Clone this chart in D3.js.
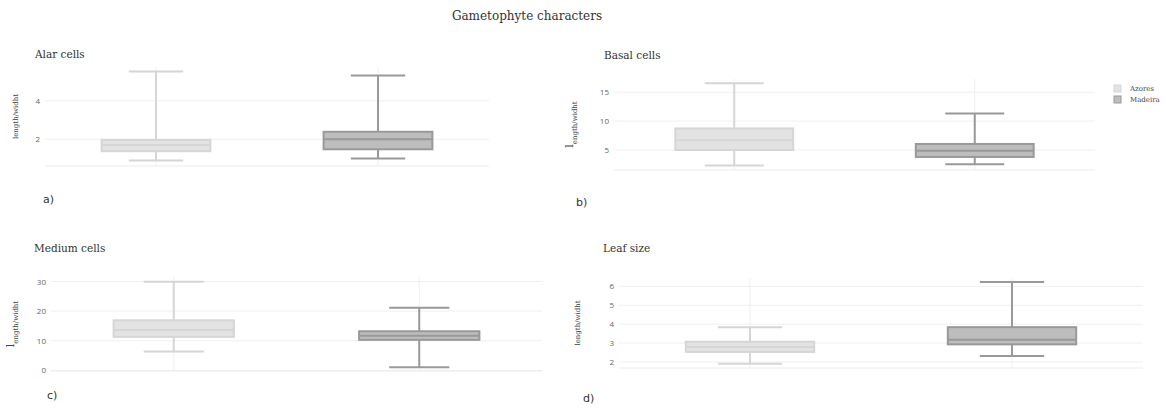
<!doctype html>
<html>
<head>
  <title>Gametophyte characters</title>
  <script src="https://d3js.org/d3.v7.min.js"></script>
  <style>
    body { margin: 0; background: white; }
  </style>
</head>
<body>
<script>
  var width = 1166, height = 408;

  // data: [lower whisker, q1, median, q3, upper whisker]
  var groups = ["Azores", "Madeira"];
  var panelTitles = ["Alar cells", "Basal cells", "Medium cells", "Leaf size"];
  var panelLetters = ["a)", "b)", "c)", "d)"];
  var azoresStats = [
    [0.9, 1.38, 1.7, 1.97, 5.53],
    [2.29, 5.0, 6.7, 8.73, 16.56],
    [6.4, 11.3, 13.6, 16.9, 29.9],
    [1.91, 2.53, 2.79, 3.07, 3.84]
  ];
  var madeiraStats = [
    [1.0, 1.48, 2.0, 2.39, 5.32],
    [2.52, 3.79, 4.88, 6.04, 11.33],
    [1.1, 10.3, 11.7, 13.2, 21.1],
    [2.32, 2.93, 3.18, 3.84, 6.23]
  ];
  var yTicks = [[2, 4], [5, 10, 15], [0, 10, 20, 30], [2, 3, 4, 5, 6]];
  var yRanges = [[0.61, 5.76], [1.53, 17.3], [-0.2, 31.5], [1.68, 6.44]];

  // layout of the four panels
  var layout = [
    {x0: 45, x1: 489, y0: 67, y1: 166, tx: 35, ty: 58, lx: 43, ly: 203, yl: 18, big: false},
    {x0: 614, x1: 1095, y0: 79, y1: 170, tx: 604, ty: 59, lx: 576, ly: 206, yl: 573, big: true},
    {x0: 51, x1: 542, y0: 277, y1: 371, tx: 34, ty: 252, lx: 47, ly: 399, yl: 14, big: true},
    {x0: 619, x1: 1143, y0: 278, y1: 368, tx: 603, ty: 252, lx: 583, ly: 402, yl: 580, big: false}
  ];
  var colors = {
    Azores: {line: "#d6d6d6", fill: "#e3e3e3"},
    Madeira: {line: "#999999", fill: "#bdbdbd"}
  };

  var svg = d3.select("body").append("svg")
    .attr("width", width)
    .attr("height", height)
    .style("font-family", "DejaVu Serif");

  svg.append("text")
    .attr("x", 527).attr("y", 20)
    .attr("text-anchor", "middle")
    .style("font-size", "12px")
    .attr("fill", "#333")
    .text("Gametophyte characters");

  panelTitles.forEach(function(title, i) {
    var L = layout[i];
    var g = svg.append("g");

    var x = d3.scalePoint().domain(groups).range([L.x0, L.x1]).padding(0.5);
    var y = d3.scaleLinear().domain(yRanges[i]).range([L.y1, L.y0]);
    var boxW = x.step() * 0.49;

    // grid
    g.selectAll(".hg").data(yTicks[i]).enter().append("line")
      .attr("x1", L.x0).attr("x2", L.x1)
      .attr("y1", function(d) { return y(d); })
      .attr("y2", function(d) { return y(d); })
      .attr("stroke", "#f0f0f0");
    g.selectAll(".vg").data(groups).enter().append("line")
      .attr("x1", function(d) { return x(d); })
      .attr("x2", function(d) { return x(d); })
      .attr("y1", L.y0).attr("y2", L.y1)
      .attr("stroke", "#f0f0f0");
    g.append("line")
      .attr("x1", L.x0).attr("x2", L.x1)
      .attr("y1", L.y1).attr("y2", L.y1)
      .attr("stroke", "#ebebeb");

    // y axis tick labels
    var ax = g.append("g")
      .attr("transform", "translate(" + (L.x0 - 1) + ",0)")
      .call(d3.axisLeft(y).tickValues(yTicks[i]).tickFormat(d3.format("d")).tickSize(0).tickPadding(4));
    ax.select(".domain").remove();
    ax.selectAll("text")
      .style("font-family", "Open Sans")
      .style("font-size", "8px")
      .attr("fill", "#666");

    // boxes
    var stats = [azoresStats[i], madeiraStats[i]];
    groups.forEach(function(grp, j) {
      var s = stats[j], cx = x(grp), c = colors[grp];
      var bg = g.append("g")
        .attr("stroke", c.line)
        .attr("stroke-width", 2);
      bg.append("line")
        .attr("x1", cx).attr("x2", cx)
        .attr("y1", y(s[0])).attr("y2", y(s[1]));
      bg.append("line")
        .attr("x1", cx).attr("x2", cx)
        .attr("y1", y(s[3])).attr("y2", y(s[4]));
      [s[0], s[4]].forEach(function(v) {
        bg.append("line")
          .attr("x1", cx - boxW / 4).attr("x2", cx + boxW / 4)
          .attr("y1", y(v)).attr("y2", y(v));
      });
      bg.append("rect")
        .attr("x", cx - boxW / 2)
        .attr("y", y(s[3]))
        .attr("width", boxW)
        .attr("height", y(s[1]) - y(s[3]))
        .attr("fill", c.fill);
      bg.append("line")
        .attr("x1", cx - boxW / 2).attr("x2", cx + boxW / 2)
        .attr("y1", y(s[2])).attr("y2", y(s[2]));
    });

    // panel title
    svg.append("text")
      .attr("x", L.tx).attr("y", L.ty)
      .style("font-size", "10.5px")
      .attr("fill", "#333")
      .text(title);

    // y label
    var midY = (L.y0 + L.y1) / 2;
    var yl = svg.append("text")
      .attr("transform", "translate(" + L.yl + "," + midY + ") rotate(-90)")
      .attr("text-anchor", "middle")
      .attr("fill", "#444")
      .style("font-size", "7px");
    if (L.big) {
      yl.append("tspan").style("font-size", "11px").text("l");
      yl.append("tspan").attr("dy", 4).text("ength/widht");
    } else {
      yl.text("length/widht");
    }

    // panel letter
    svg.append("text")
      .attr("x", L.lx).attr("y", L.ly)
      .style("font-family", "DejaVu Sans")
      .style("font-size", "11px")
      .attr("fill", "#333")
      .text(panelLetters[i]);
  });

  // legend
  var leg = svg.append("g");
  groups.forEach(function(grp, j) {
    leg.append("rect")
      .attr("x", 1114).attr("y", 85 + j * 11)
      .attr("width", 7).attr("height", 7)
      .attr("fill", colors[grp].fill)
      .attr("stroke", colors[grp].line)
      .attr("stroke-width", 1);
    leg.append("text")
      .attr("x", 1130).attr("y", 91 + j * 11)
      .style("font-size", "7px")
      .attr("fill", "#444")
      .text(grp);
  });
</script>
</body>
</html>
